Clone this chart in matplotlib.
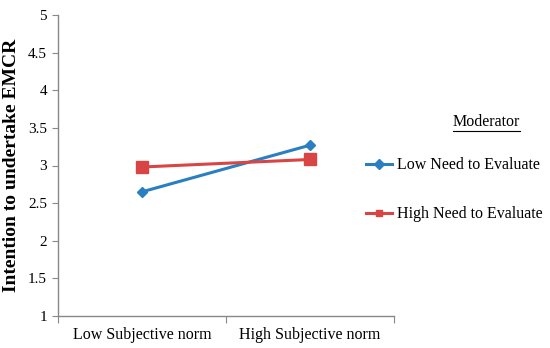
import matplotlib
matplotlib.use("Agg")
import matplotlib.pyplot as plt
from matplotlib.lines import Line2D

categories = ["Low Subjective norm", "High Subjective norm"]
low_need = [2.65, 3.27]
high_need = [2.98, 3.08]
series_names = ["Low Need to Evaluate", "High Need to Evaluate"]
yticks = [1, 1.5, 2, 2.5, 3, 3.5, 4, 4.5, 5]
ytick_labels = ["1", "1.5", "2", "2.5", "3", "3.5", "4", "4.5", "5"]

plt.rcParams['font.family'] = ['Liberation Serif', 'DejaVu Serif']

W, H = 550, 348
fig = plt.figure(figsize=(W/100, H/100), dpi=100)
ax = fig.add_axes([58/W, 1-316/H, (394-58)/W, (316-15)/H])

blue = "#2a7fc1"
red = "#d94545"
x = [0.5, 1.5]
ax.plot(x, low_need, color=blue, lw=2.2, marker="D", ms=5.5, label=series_names[0])
ax.plot(x, high_need, color=red, lw=2.2, marker="s", ms=8, label=series_names[1])

ax.set_xlim(0, 2)
ax.set_ylim(1, 5)
ax.set_yticks(yticks)
ax.set_yticklabels(ytick_labels, fontsize=11)
ax.set_xticks([0, 1, 2])
ax.set_xticklabels([])
ax.set_xticks(x, minor=True)
ax.set_xticklabels(categories, minor=True, fontsize=11.5)
ax.tick_params(axis="x", which="minor", length=0, pad=8)
ax.tick_params(axis="x", which="major", length=5, color="#888888", direction="out")
ax.tick_params(axis="y", length=4, color="#888888", direction="out", pad=4)
for s in ["top", "right"]:
    ax.spines[s].set_visible(False)
for s in ["left", "bottom"]:
    ax.spines[s].set_color("#888888")
    ax.spines[s].set_linewidth(1)

ax.set_ylabel("Intention to undertake EMCR", fontsize=14, fontweight="bold", labelpad=6)

fig.text(486/W, 1-122/H, "Moderator", fontsize=11.5, ha="center", va="center")
fig.add_artist(Line2D([453/W, 520/W], [1-131/H, 1-131/H], color="black", lw=0.8))

leg = fig.legend(handles=ax.get_lines(), labels=series_names, loc="upper left",
                 bbox_to_anchor=(360/W, 1-151/H), frameon=False, fontsize=11.5,
                 handlelength=1.6, handletextpad=0.3, labelspacing=2.05, borderaxespad=0)
for h in leg.legend_handles:
    h.set_markersize(5)

fig.savefig("out.png", dpi=100)
